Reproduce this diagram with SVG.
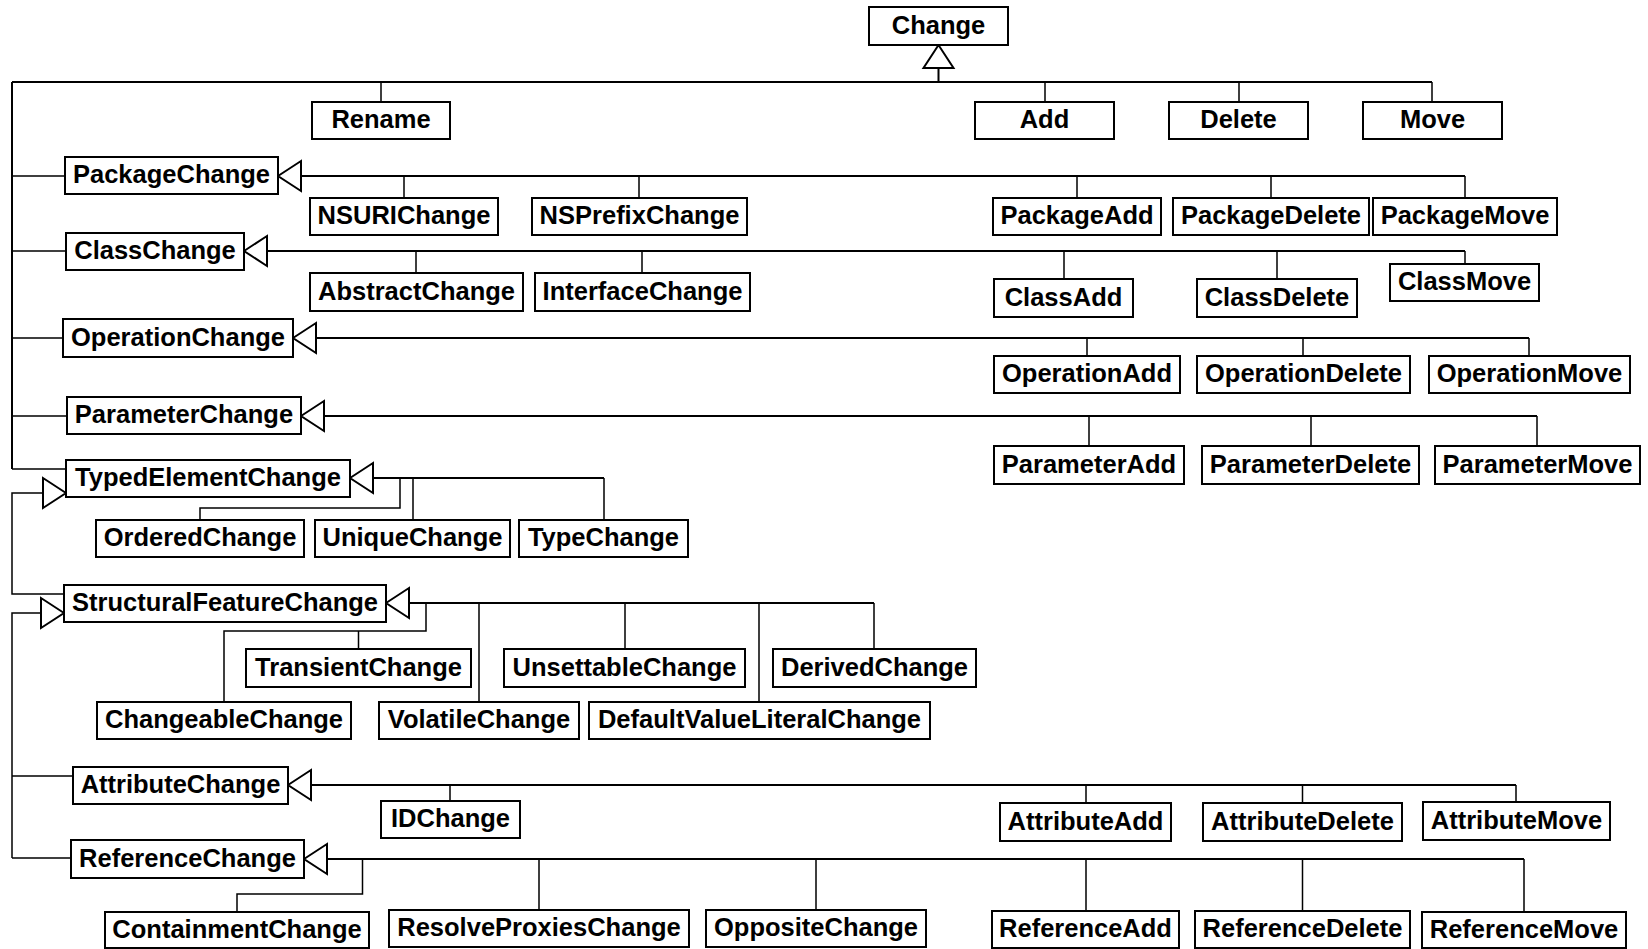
<svg xmlns="http://www.w3.org/2000/svg" xmlns:xlink="http://www.w3.org/1999/xlink" width="1648" height="949" viewBox="0 0 1648 949">
<style>
.n rect{fill:#fff;stroke:#000;stroke-width:2}
.n text{font-family:"Liberation Sans",Arial,sans-serif;font-weight:bold;font-size:25.5px;fill:#000;text-anchor:middle}
.m{fill:none;stroke:#000;stroke-width:2}
.s{fill:none;stroke:#000;stroke-width:1.5}
.t{fill:#fff;stroke:#000;stroke-width:2;stroke-linejoin:miter}
</style>
<defs>
<path id="triL" class="t" d="M0,0 L23,-15 L23,15 Z"/>
<path id="triR" class="t" d="M0,0 L-23,-15 L-23,15 Z"/>
<path id="triU" class="t" d="M0,0 L-15,23 L15,23 Z"/>
</defs>
<rect width="1648" height="949" fill="#fff"/>
<g id="connectors">
<path class="m" d="M938.5,68 V82 M12,82 H1432 M12,82 V469"/>
<path class="s" d="M381,82 V102 M1045,82 V102 M1239,82 V102 M1432,82 V102"/>
<path class="s" d="M12,176 H65 M12,251 H66 M12,338 H63 M12,416 H67 M12,469 H66"/>
<use xlink:href="#triU" x="938.5" y="45"/>
<path class="m" d="M301,176 H1465"/>
<path class="s" d="M404,176 V198 M639,176 V198 M1077,176 V198 M1271,176 V198 M1465,176 V198"/>
<use xlink:href="#triL" x="278" y="176"/>
<path class="m" d="M267,251 H1465"/>
<path class="s" d="M416,251 V273 M642,251 V273 M1064,251 V279 M1277,251 V279 M1465,251 V264"/>
<use xlink:href="#triL" x="244" y="251"/>
<path class="m" d="M316,338 H1529"/>
<path class="s" d="M1087,338 V356 M1303,338 V356 M1529,338 V356"/>
<use xlink:href="#triL" x="293" y="338"/>
<path class="m" d="M324,416 H1537"/>
<path class="s" d="M1089,416 V446 M1311,416 V446 M1537,416 V446"/>
<use xlink:href="#triL" x="301" y="416"/>
<path class="m" d="M373,478 H604"/>
<path class="s" d="M400,478 V508 H200 V520 M413,478 V520 M604,478 V520"/>
<use xlink:href="#triL" x="350" y="478"/>
<path class="s" d="M43,493 H12 V594 H64"/>
<use xlink:href="#triR" x="66" y="493"/>
<path class="m" d="M409,603 H874"/>
<path class="s" d="M426,603 V631 H224 V702 M358.5,631 V649 M479,603 V702 M625,603 V649 M759,603 V702 M874,603 V649"/>
<use xlink:href="#triL" x="386" y="603"/>
<path class="s" d="M40,613 H12 V858 M12,776 H73 M12,858 H71"/>
<use xlink:href="#triR" x="64" y="613"/>
<path class="m" d="M312,785 H1516"/>
<path class="s" d="M450,785 V801 M1086,785 V803 M1302.5,785 V803 M1516,785 V802"/>
<use xlink:href="#triL" x="288" y="785"/>
<path class="m" d="M327,859 H1524"/>
<path class="s" d="M362.5,859 V894 H237 V912 M539,859 V910 M816,859 V910 M1086,859 V911 M1302.5,859 V911 M1524,859 V912"/>
<use xlink:href="#triL" x="304" y="859"/>
</g>
<g id="Change" class="n"><rect x="869" y="7" width="139" height="38"/><text x="938.5" y="33.5">Change</text></g>
<g id="Rename" class="n"><rect x="312" y="102" width="138" height="37"/><text x="381" y="128">Rename</text></g>
<g id="Add" class="n"><rect x="975" y="102" width="139" height="37"/><text x="1044.5" y="128">Add</text></g>
<g id="Delete" class="n"><rect x="1169" y="102" width="139" height="37"/><text x="1238.5" y="128">Delete</text></g>
<g id="Move" class="n"><rect x="1363" y="102" width="139" height="37"/><text x="1432.5" y="128">Move</text></g>
<g id="PackageChange" class="n"><rect x="65" y="157" width="213" height="37"/><text x="171.5" y="183">PackageChange</text></g>
<g id="NSURIChange" class="n"><rect x="310" y="198" width="188" height="37"/><text x="404" y="224">NSURIChange</text></g>
<g id="NSPrefixChange" class="n"><rect x="532" y="198" width="215" height="37"/><text x="639.5" y="224">NSPrefixChange</text></g>
<g id="PackageAdd" class="n"><rect x="993" y="198" width="168" height="37"/><text x="1077" y="224">PackageAdd</text></g>
<g id="PackageDelete" class="n"><rect x="1173" y="198" width="196" height="37"/><text x="1271" y="224">PackageDelete</text></g>
<g id="PackageMove" class="n"><rect x="1373" y="198" width="184" height="37"/><text x="1465" y="224">PackageMove</text></g>
<g id="ClassChange" class="n"><rect x="66" y="233" width="178" height="37"/><text x="155" y="259">ClassChange</text></g>
<g id="AbstractChange" class="n"><rect x="310" y="273" width="213" height="38"/><text x="416.5" y="299.5">AbstractChange</text></g>
<g id="InterfaceChange" class="n"><rect x="535" y="273" width="215" height="38"/><text x="642.5" y="299.5">InterfaceChange</text></g>
<g id="ClassAdd" class="n"><rect x="994" y="279" width="139" height="38"/><text x="1063.5" y="305.5">ClassAdd</text></g>
<g id="ClassDelete" class="n"><rect x="1197" y="279" width="160" height="38"/><text x="1277" y="305.5">ClassDelete</text></g>
<g id="ClassMove" class="n"><rect x="1390" y="264" width="149" height="37"/><text x="1464.5" y="290">ClassMove</text></g>
<g id="OperationChange" class="n"><rect x="63" y="319" width="230" height="38"/><text x="178" y="345.5">OperationChange</text></g>
<g id="OperationAdd" class="n"><rect x="994" y="356" width="186" height="37"/><text x="1087" y="382">OperationAdd</text></g>
<g id="OperationDelete" class="n"><rect x="1197" y="356" width="213" height="37"/><text x="1303.5" y="382">OperationDelete</text></g>
<g id="OperationMove" class="n"><rect x="1429" y="356" width="201" height="37"/><text x="1529.5" y="382">OperationMove</text></g>
<g id="ParameterChange" class="n"><rect x="67" y="397" width="234" height="37"/><text x="184" y="423">ParameterChange</text></g>
<g id="ParameterAdd" class="n"><rect x="994" y="446" width="190" height="38"/><text x="1089" y="472.5">ParameterAdd</text></g>
<g id="ParameterDelete" class="n"><rect x="1202" y="446" width="217" height="38"/><text x="1310.5" y="472.5">ParameterDelete</text></g>
<g id="ParameterMove" class="n"><rect x="1435" y="446" width="205" height="38"/><text x="1537.5" y="472.5">ParameterMove</text></g>
<g id="TypedElementChange" class="n"><rect x="66" y="460" width="284" height="37"/><text x="208" y="486">TypedElementChange</text></g>
<g id="OrderedChange" class="n"><rect x="96" y="520" width="208" height="37"/><text x="200" y="546">OrderedChange</text></g>
<g id="UniqueChange" class="n"><rect x="315" y="520" width="195" height="37"/><text x="412.5" y="546">UniqueChange</text></g>
<g id="TypeChange" class="n"><rect x="519" y="520" width="169" height="37"/><text x="603.5" y="546">TypeChange</text></g>
<g id="StructuralFeatureChange" class="n"><rect x="64" y="585" width="322" height="37"/><text x="225" y="611">StructuralFeatureChange</text></g>
<g id="TransientChange" class="n"><rect x="246" y="649" width="225" height="38"/><text x="358.5" y="675.5">TransientChange</text></g>
<g id="UnsettableChange" class="n"><rect x="504" y="649" width="241" height="38"/><text x="624.5" y="675.5">UnsettableChange</text></g>
<g id="DerivedChange" class="n"><rect x="773" y="649" width="203" height="38"/><text x="874.5" y="675.5">DerivedChange</text></g>
<g id="ChangeableChange" class="n"><rect x="97" y="702" width="254" height="37"/><text x="224" y="728">ChangeableChange</text></g>
<g id="VolatileChange" class="n"><rect x="379" y="702" width="200" height="37"/><text x="479" y="728">VolatileChange</text></g>
<g id="DefaultValueLiteralChange" class="n"><rect x="589" y="702" width="341" height="37"/><text x="759.5" y="728">DefaultValueLiteralChange</text></g>
<g id="AttributeChange" class="n"><rect x="73" y="767" width="215" height="37"/><text x="180.5" y="793">AttributeChange</text></g>
<g id="IDChange" class="n"><rect x="381" y="801" width="139" height="37"/><text x="450.5" y="827">IDChange</text></g>
<g id="AttributeAdd" class="n"><rect x="1000" y="803" width="171" height="38"/><text x="1085.5" y="829.5">AttributeAdd</text></g>
<g id="AttributeDelete" class="n"><rect x="1203" y="803" width="199" height="38"/><text x="1302.5" y="829.5">AttributeDelete</text></g>
<g id="AttributeMove" class="n"><rect x="1423" y="802" width="187" height="38"/><text x="1516.5" y="828.5">AttributeMove</text></g>
<g id="ReferenceChange" class="n"><rect x="71" y="840" width="233" height="38"/><text x="187.5" y="866.5">ReferenceChange</text></g>
<g id="ContainmentChange" class="n"><rect x="105" y="912" width="264" height="36"/><text x="237" y="937.5">ContainmentChange</text></g>
<g id="ResolveProxiesChange" class="n"><rect x="389" y="910" width="300" height="37"/><text x="539" y="936">ResolveProxiesChange</text></g>
<g id="OppositeChange" class="n"><rect x="706" y="910" width="220" height="37"/><text x="816" y="936">OppositeChange</text></g>
<g id="ReferenceAdd" class="n"><rect x="992" y="911" width="187" height="37"/><text x="1085.5" y="937">ReferenceAdd</text></g>
<g id="ReferenceDelete" class="n"><rect x="1195" y="911" width="215" height="37"/><text x="1302.5" y="937">ReferenceDelete</text></g>
<g id="ReferenceMove" class="n"><rect x="1422" y="912" width="204" height="36"/><text x="1524" y="937.5">ReferenceMove</text></g>
</svg>
